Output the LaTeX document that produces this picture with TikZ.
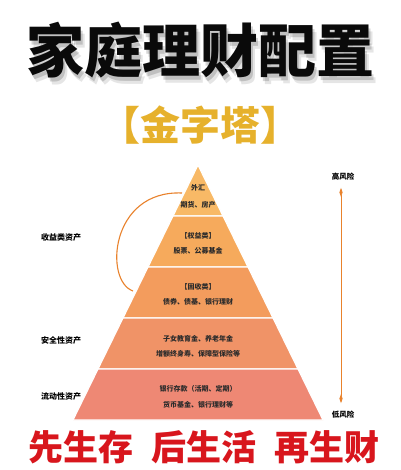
\documentclass[tikz,border=0pt]{standalone}
\usepackage{fontspec}
\usepackage{xcolor}
\usepackage{tikz}
\usetikzlibrary{calc, positioning, arrows.meta}
\newfontfamily\cjk{Noto Sans CJK SC}
\newfontfamily\cjkheavy{Noto Sans CJK SC}[UprightFont=* Black]
\definecolor{titleBlack}{HTML}{0A0A0A}
\definecolor{goldText}{HTML}{E6B12C}
\definecolor{redText}{HTML}{D8161D}
\definecolor{arcOrange}{HTML}{E9822C}
\definecolor{darkText}{HTML}{2B2B2B}
\definecolor{layerA}{HTML}{F8B966}
\definecolor{layerB}{HTML}{F6AA5C}
\definecolor{layerC}{HTML}{F39C5D}
\definecolor{layerD}{HTML}{F09367}
\definecolor{layerE}{HTML}{EE8874}

\tikzset{
  layertext/.style={font=\cjk\fontsize{7}{8}\selectfont\bfseries, text=darkText, inner sep=0pt},
  sidelabel/.style={font=\cjk\fontsize{8}{9}\selectfont\bfseries, text=black, inner sep=0pt},
  risklabel/.style={font=\cjk\fontsize{7.5}{9}\selectfont\bfseries, text=black, inner sep=0pt}
}

\begin{document}
\begin{tikzpicture}[x=1pt, y=-1pt]
  \fill[white] (0,0) rectangle (400,470);
  \useasboundingbox (0,0) rectangle (400,470);

  % title with soft shadow
  \foreach \d/\op in {7/0.10, 4/0.16}
    \node[name=shadow\d, font=\cjkheavy\fontsize{58}{62}\selectfont, text=black, opacity=\op, inner sep=0pt]
      at (200+\d*0.6, 50+\d) {家庭理财配置};
  \node[font=\cjkheavy\fontsize{58}{62}\selectfont, text=titleBlack, inner sep=0pt] (title) at (200,50) {家庭理财配置};
  \node[font=\cjkheavy\fontsize{40}{44}\selectfont, text=goldText, inner sep=0pt] (subtitle) at (200,125) {【金字塔】};

  % pyramid layers, top to bottom
  \foreach \i/\col in {1/layerA, 2/layerB, 3/layerC, 4/layerD, 5/layerE} {
    \fill[\col, draw=white, line width=1.2pt, line join=round]
      ({198-25*(\i-1)},{165+51*(\i-1)}) -- ({198+25*(\i-1)},{165+51*(\i-1)})
      -- ({198+25*\i},{165+51*\i}) -- ({198-25*\i},{165+51*\i}) -- cycle;
  }

  % layer texts
  \node[layertext] (fxA) at (198,188) {外汇};
  \node[layertext] (fxB) at (198,205) {期货、房产};
  \node[layertext] (eqA) at (198,236) {【权益类】};
  \node[layertext] (eqB) at (198,251) {股票、公募基金};
  \node[layertext] (fiA) at (198,287) {【固收类】};
  \node[layertext] (fiB) at (198,302) {债券、债基、银行理财};
  \node[layertext] (inA) at (198,339) {子女教育金、养老年金};
  \node[layertext] (inB) at (198,354) {增额终身寿、保障型保险等};
  \node[layertext] (dpA) at (198,389) {银行存款（活期、定期）};
  \node[layertext] (dpB) at (198,405) {货币基金、银行理财等};

  % asset groups
  \node[sidelabel] (growth) at (61,237) {收益类资产};
  \node[sidelabel] (safe) at (61,340) {安全性资产};
  \node[sidelabel] (liquid) at (61,396) {流动性资产};

  % bracket arc over the upper layers
  \coordinate (arcTop) at (182,193);
  \coordinate (arcEnd) at (133,291);
  \draw[arcOrange, line width=1.1pt] (arcTop) .. controls (110,190) and (104,281) .. (arcEnd);

  % risk scale
  \node[risklabel] (high) at (343,177) {高风险};
  \node[risklabel] (low) at (343,415) {低风险};
  \draw[arcOrange, line width=0.9pt, {Kite[length=9pt,width=3.2pt,inset=4.5pt]}-{Kite[length=9pt,width=3.2pt,inset=4.5pt]}]
    ([xshift=-2pt,yshift=-7pt]high.south) -- ([xshift=-2pt,yshift=8pt]low.north);

  % motto
  \node[font=\cjkheavy\fontsize{35}{39}\selectfont, text=redText, inner sep=0pt] (motto) at (204,447)
    {先生存\hspace{18pt}后生活\hspace{18pt}再生财};
\end{tikzpicture}
\end{document}
